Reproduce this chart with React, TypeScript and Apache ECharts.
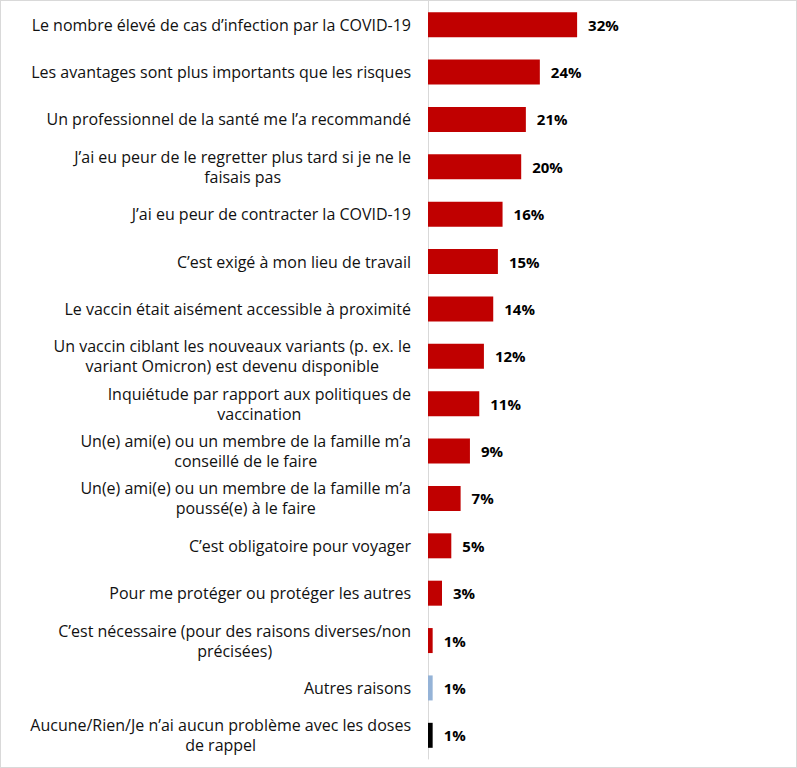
import React, { useEffect, useRef } from "react";
import * as echarts from "echarts";

const categories: string[] = [
  "Le nombre élevé de cas d’infection par la COVID-19",
  "Les avantages sont plus importants que les risques",
  "Un professionnel de la santé me l’a recommandé",
  "J’ai eu peur de le regretter plus tard si je ne le\nfaisais pas",
  "J’ai eu peur de contracter la COVID-19",
  "C’est exigé à mon lieu de travail",
  "Le vaccin était aisément accessible à proximité",
  "Un vaccin ciblant les nouveaux variants (p. ex. le\nvariant Omicron) est devenu disponible",
  "Inquiétude par rapport aux politiques de\nvaccination",
  "Un(e) ami(e) ou un membre de la famille m’a\nconseillé de le faire",
  "Un(e) ami(e) ou un membre de la famille m’a\npoussé(e) à le faire",
  "C’est obligatoire pour voyager",
  "Pour me protéger ou protéger les autres",
  "C’est nécessaire (pour des raisons diverses/non\nprécisées)",
  "Autres raisons",
  "Aucune/Rien/Je n’ai aucun problème avec les doses\nde rappel",
];

const values: number[] = [32, 24, 21, 20, 16, 15, 14, 12, 11, 9, 7, 5, 3, 1, 1, 1];

const RED = "#C00000";
const BLUE = "#95B3D7";
const BLACK = "#000000";
const barColors: string[] = [
  RED, RED, RED, RED, RED, RED, RED, RED, RED, RED, RED, RED, RED, RED, BLUE, BLACK,
];

const FONT = "Open Sans";

export default function App() {
  const ref = useRef<HTMLDivElement>(null);

  useEffect(() => {
    if (!ref.current) return;
    const chart = echarts.init(ref.current, undefined, { renderer: "svg" });
    chart.setOption({
      animation: false,
      grid: { left: 427, top: -2, width: 233, height: 760, containLabel: false },
      xAxis: {
        type: "value",
        min: 0,
        max: 50,
        show: false,
      },
      yAxis: {
        type: "category",
        inverse: true,
        data: categories,
        axisLine: { show: true, lineStyle: { color: "#D9D9D9", width: 1 } },
        axisTick: { show: false },
        splitLine: { show: false },
        axisLabel: {
          align: "right",
          margin: 17,
          color: "#111",
          fontFamily: FONT,
          fontSize: 16,
          lineHeight: 20,
          formatter: (v: string) =>
            v
              .split("\n")
              .map((l) => `{c|${l}}`)
              .join("\n"),
          rich: {
            c: {
              align: "center",
              color: "#111",
              fontFamily: FONT,
              fontSize: 16,
              lineHeight: 20,
            },
          },
        },
      },
      series: [
        {
          type: "bar",
          barWidth: 25,
          data: values.map((v, i) => ({ value: v, itemStyle: { color: barColors[i] } })),
          label: {
            show: true,
            position: "right",
            distance: 11,
            formatter: (p: any) => `${p.value}%`,
            color: "#000",
            fontFamily: FONT,
            fontWeight: "bold",
            fontSize: 15,
          },
        },
      ],
    });
    return () => chart.dispose();
  }, []);

  return (
    <div
      style={{
        position: "fixed",
        left: 0,
        top: 0,
        width: 797,
        height: 768,
        boxSizing: "border-box",
        border: "1px solid #D9D9D9",
        background: "#fff",
      }}
    >
      <div ref={ref} style={{ width: 795, height: 766 }} />
    </div>
  );
}
